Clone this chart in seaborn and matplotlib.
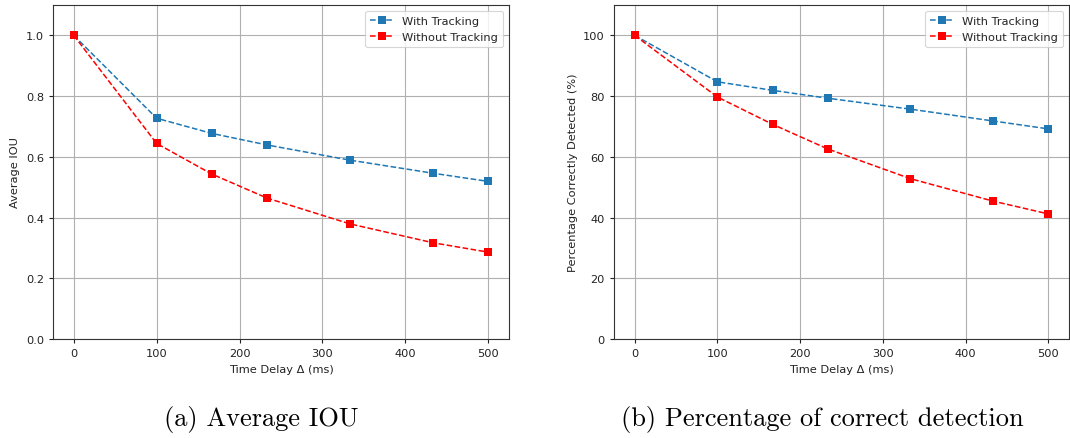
import matplotlib
matplotlib.use("Agg")
import matplotlib.pyplot as plt
import seaborn as sns
import pandas as pd

# Time delay in ms (frame offsets at 30 fps)
delay_ms = [0, 100, 166.7, 233.3, 333.3, 433.3, 500]

iou_with = [1.0, 0.727, 0.677, 0.639, 0.589, 0.546, 0.519]
iou_without = [1.0, 0.644, 0.543, 0.464, 0.379, 0.317, 0.286]

pct_with = [100.0, 84.7, 81.9, 79.3, 75.7, 71.8, 69.2]
pct_without = [100.0, 79.7, 70.7, 62.6, 52.8, 45.4, 41.2]

series_names = ["With Tracking", "Without Tracking"]
series_colors = {"With Tracking": "#1f77b4", "Without Tracking": "red"}

sns.set_style("ticks")
plt.rcParams["font.family"] = ["DejaVu Sans"]
FS = 8.2
plt.rcParams["font.size"] = FS


def long_table(with_vals, without_vals):
    rows = []
    for name, vals in zip(series_names, [with_vals, without_vals]):
        for x, y in zip(delay_ms, vals):
            rows.append({"delay": x, "value": y, "series": name})
    return pd.DataFrame(rows)


fig = plt.figure(figsize=(10.70, 4.39), dpi=100)
W, H = 1070, 439
ax1 = fig.add_axes([53 / W, (H - 340) / H, (509 - 53) / W, (340 - 6) / H])
ax2 = fig.add_axes([614 / W, (H - 340) / H, (1069 - 614) / W, (340 - 6) / H])

panels = [
    (ax1, long_table(iou_with, iou_without), "Average IOU", (0, 1.1),
     [0.0, 0.2, 0.4, 0.6, 0.8, 1.0], "{:.1f}"),
    (ax2, long_table(pct_with, pct_without), "Percentage Correctly Detected (%)", (0, 110),
     [0, 20, 40, 60, 80, 100], "{:.0f}"),
]

for ax, df, ylabel, ylim, yticks, fmt in panels:
    sns.lineplot(data=df, x="delay", y="value", hue="series", hue_order=series_names,
                 palette=series_colors, marker="s", markersize=5.5, linestyle="--",
                 linewidth=1.1, markeredgewidth=0, ax=ax)
    ax.set_xlim(-25, 525)
    ax.set_ylim(*ylim)
    ax.set_xticks([0, 100, 200, 300, 400, 500])
    ax.set_yticks(yticks)
    ax.set_yticklabels([fmt.format(v) for v in yticks])
    ax.grid(True, color="#b0b0b0", linewidth=0.8)
    ax.set_axisbelow(True)
    ax.set_xlabel("Time Delay Δ (ms)", fontsize=FS, color="#222222")
    ax.set_ylabel(ylabel, fontsize=FS, color="#222222")
    ax.tick_params(labelsize=FS, colors="#222222", length=3, width=0.8)
    for s in ax.spines.values():
        s.set_color("#333333")
        s.set_linewidth(0.8)
    leg = ax.legend(loc="upper right", fontsize=FS, frameon=True, title=None,
                    handlelength=2.0, borderpad=0.45, labelspacing=0.55)
    leg.get_frame().set_edgecolor("#cccccc")
    leg.get_frame().set_linewidth(0.8)

fig.text(261 / W, 1 - 420 / H, "(a) Average IOU", family="cmr10", fontsize=19,
         ha="center", va="center", color="black")
fig.text(822 / W, 1 - 420 / H, "(b) Percentage of correct detection", family="cmr10",
         fontsize=19, ha="center", va="center", color="black")

fig.savefig("out.png", dpi=100, facecolor="white")
